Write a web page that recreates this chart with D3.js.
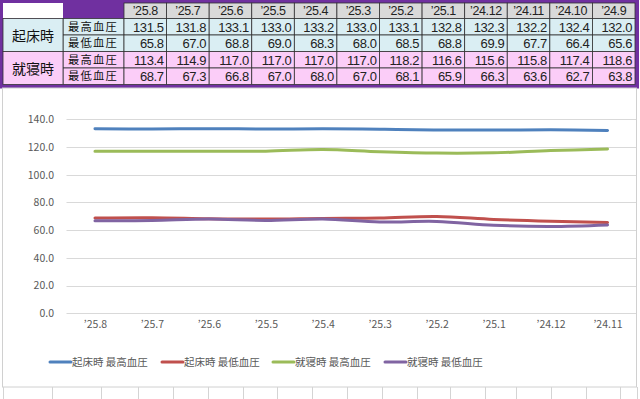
<!DOCTYPE html>
<html>
<head>
<meta charset="utf-8">
<script src="https://cdn.jsdelivr.net/npm/d3@7"></script>
<style>
  body { margin: 0; background: #fff; }
  text { font-family: "Noto Sans CJK JP", "Noto Sans", sans-serif; }
  text.num { font-family: "Liberation Sans", Arial, sans-serif; }
</style>
</head>
<body>
<div id="chart"></div>
<script>
// Table data (upper block)
const tableCols = ["’25.8", "’25.7", "’25.6", "’25.5", "’25.4", "’25.3", "’25.2", "’25.1", "’24.12", "’24.11", "’24.10", "’24.9"];
const groupLabels = ["起床時", "就寝時"];
const rowLabels = ["最高血圧", "最低血圧"];
const wakeHigh = [131.5, 131.8, 133.1, 133.0, 133.2, 133.0, 133.1, 132.8, 132.3, 132.2, 132.4, 132.0];
const wakeLow = [65.8, 67.0, 68.8, 69.0, 68.3, 68.0, 68.5, 68.8, 69.9, 67.7, 66.4, 65.6];
const bedHigh = [113.4, 114.9, 117.0, 117.0, 117.0, 117.0, 118.2, 116.6, 115.6, 115.8, 117.4, 118.6];
const bedLow = [68.7, 67.3, 66.8, 67.0, 68.0, 67.0, 68.1, 65.9, 66.3, 63.6, 62.7, 63.8];

// Chart data (lower block) - values as plotted
const categories = ["’25.8", "’25.7", "’25.6", "’25.5", "’25.4", "’25.3", "’25.2", "’25.1", "’24.12", "’24.11"];
const seriesNames = ["起床時 最高血圧", "起床時 最低血圧", "就寝時 最高血圧", "就寝時 最低血圧"];
const chartWakeHigh = [133.1, 133.0, 133.2, 133.0, 133.1, 132.8, 132.3, 132.2, 132.4, 132.0];
const chartWakeLow = [68.8, 69.0, 68.3, 68.0, 68.5, 68.8, 69.9, 67.7, 66.4, 65.6];
const chartBedHigh = [117.0, 117.0, 117.0, 117.0, 118.2, 116.6, 115.6, 115.8, 117.4, 118.6];
const chartBedLow = [66.8, 67.0, 68.0, 67.0, 68.1, 65.9, 66.3, 63.6, 62.7, 63.8];
const yTicks = [0, 20, 40, 60, 80, 100, 120, 140];

const colors = ["#4f81bd", "#c0504d", "#9bbb59", "#8064a2"];
const purple = "#7030a0";

const svgWidth = 640;
const svgHeight = 399;

const svg = d3.select("#chart")
  .append("svg")
  .attr("width", svgWidth)
  .attr("height", svgHeight);

// ---------- table ----------
const tableLeft = 3;
const groupColW = 60;   // 3..63
const labelColW = 60;   // 63..123
const dataLeft = 124;
const dataRight = 635;
const colW = (dataRight - dataLeft) / tableCols.length;
const headerTop = 3;
const headerH = 15.5;
const rowH = 16.5;

const tableRows = [wakeHigh, wakeLow, bedHigh, bedLow];
const rowFill = ["#daeef3", "#daeef3", "#fbcdf8", "#fbcdf8"];

const table = svg.append("g");

// purple frame
table.append("rect")
  .attr("x", 0).attr("y", 0)
  .attr("width", 639).attr("height", headerTop + headerH + rowH * 4 + 4)
  .attr("fill", purple);

// header row
table.append("rect")
  .attr("x", tableLeft).attr("y", headerTop)
  .attr("width", groupColW).attr("height", headerH)
  .attr("fill", "#fff");
table.append("rect")
  .attr("x", tableLeft + groupColW).attr("y", headerTop)
  .attr("width", labelColW).attr("height", headerH)
  .attr("fill", purple);

table.selectAll("rect.head")
  .data(tableCols)
  .enter()
  .append("rect")
  .attr("class", "head")
  .attr("x", (d, i) => dataLeft + i * colW)
  .attr("y", headerTop)
  .attr("width", colW)
  .attr("height", headerH)
  .attr("fill", "#d9d9d9")
  .attr("stroke", "#333")
  .attr("stroke-width", 0.8);

table.selectAll("text.head")
  .data(tableCols)
  .enter()
  .append("text")
  .attr("class", "head num")
  .attr("x", (d, i) => dataLeft + i * colW + colW / 2)
  .attr("y", headerTop + headerH / 2 + 4.5)
  .attr("text-anchor", "middle")
  .style("font-size", "12.5px")
  .style("letter-spacing", "-0.4px")
  .attr("fill", "#222")
  .text(d => d);

// body rows
const bodyTop = headerTop + headerH;
tableRows.forEach(function (vals, r) {
  const y = bodyTop + r * rowH;
  table.append("rect")
    .attr("x", tableLeft + groupColW).attr("y", y)
    .attr("width", labelColW + 1).attr("height", rowH)
    .attr("fill", rowFill[r])
    .attr("stroke", "#333").attr("stroke-width", 0.8);
  table.append("text")
    .attr("x", tableLeft + groupColW + labelColW / 2)
    .attr("y", y + rowH / 2 + 4.2)
    .attr("text-anchor", "middle")
    .style("font-size", "11.3px")
    .style("letter-spacing", "1.2px")
    .attr("fill", "#111")
    .text(rowLabels[r % 2]);

  table.selectAll(null)
    .data(vals)
    .enter()
    .append("rect")
    .attr("x", (d, i) => dataLeft + i * colW)
    .attr("y", y)
    .attr("width", colW)
    .attr("height", rowH)
    .attr("fill", rowFill[r])
    .attr("stroke", "#333")
    .attr("stroke-width", 0.8);

  table.selectAll(null)
    .data(vals)
    .enter()
    .append("text")
    .attr("class", "num")
    .attr("x", (d, i) => dataLeft + (i + 1) * colW - 3)
    .attr("y", y + rowH / 2 + 4.8)
    .attr("text-anchor", "end")
    .style("font-size", "13px")
    .style("letter-spacing", "-0.4px")
    .attr("fill", "#222")
    .text(d => d.toFixed(1));
});

// group label cells
groupLabels.forEach(function (g, i) {
  const y = bodyTop + i * rowH * 2;
  table.append("rect")
    .attr("x", tableLeft).attr("y", y)
    .attr("width", groupColW).attr("height", rowH * 2)
    .attr("fill", rowFill[i * 2])
    .attr("stroke", "#333").attr("stroke-width", 0.8);
  table.append("text")
    .attr("x", tableLeft + groupColW / 2)
    .attr("y", y + rowH + 5.5)
    .attr("text-anchor", "middle")
    .style("font-size", "14px")
    .attr("fill", "#111")
    .text(g);
});

// ---------- chart ----------
const chartTop = 88;
const chartBottom = 387;

// chart area + spreadsheet grid below
svg.append("rect")
  .attr("x", 2.5).attr("y", chartTop)
  .attr("width", 634).attr("height", chartBottom - chartTop)
  .attr("fill", "#fff")
  .attr("stroke", "#d0d0d0")
  .attr("stroke-width", 1);

const sheetCols = [3, 52, 101, 138, 173, 208, 243, 277, 312, 347, 382, 417, 450, 485, 516, 551, 586, 620, 637];
svg.selectAll("line.sheet")
  .data(sheetCols)
  .enter()
  .append("line")
  .attr("class", "sheet")
  .attr("x1", d => d + 0.5).attr("x2", d => d + 0.5)
  .attr("y1", chartBottom).attr("y2", svgHeight)
  .attr("stroke", "#d4d4d4");

const xScale = d3.scalePoint()
  .domain(categories)
  .range([66.5, 636])
  .padding(0.5);

const yScale = d3.scaleLinear()
  .domain([0, 140])
  .range([313.3, 119.3]);

// gridlines
svg.append("g")
  .selectAll("line")
  .data(yTicks)
  .enter()
  .append("line")
  .attr("x1", 66.5)
  .attr("x2", 636)
  .attr("y1", d => Math.round(yScale(d)) + 0.5)
  .attr("y2", d => Math.round(yScale(d)) + 0.5)
  .attr("stroke", "#d9d9d9")
  .attr("stroke-width", 1);

// y axis labels
const leftAxis = d3.axisLeft(yScale)
  .tickValues(yTicks)
  .tickFormat(d3.format(".1f"))
  .tickSize(0)
  .tickPadding(0);

const yAxisG = svg.append("g")
  .attr("transform", "translate(54, 0)")
  .call(leftAxis);
yAxisG.select(".domain").remove();
yAxisG.selectAll("text")
  .style("font-family", "\"Noto Sans CJK JP\", sans-serif")
  .style("font-size", "10.5px")
  .attr("fill", "#595959");

// x axis labels
const bottomAxis = d3.axisBottom(xScale)
  .tickSize(0)
  .tickPadding(0);

const xAxisG = svg.append("g")
  .attr("transform", "translate(0, 321)")
  .call(bottomAxis);
xAxisG.select(".domain").remove();
xAxisG.selectAll("text")
  .style("font-family", "\"Noto Sans CJK JP\", sans-serif")
  .style("font-size", "10.5px")
  .attr("fill", "#595959");

// lines
const series = [chartWakeHigh, chartWakeLow, chartBedHigh, chartBedLow];
const line = d3.line()
  .x((d, i) => xScale(categories[i]))
  .y(d => yScale(d))
  .curve(d3.curveCatmullRom.alpha(0.5));

svg.append("g")
  .selectAll("path")
  .data(series)
  .enter()
  .append("path")
  .attr("d", d => line(d))
  .attr("fill", "none")
  .attr("stroke", (d, i) => colors[i])
  .attr("stroke-width", 3)
  .attr("stroke-linecap", "round");

// legend
const legendX = [50, 162, 273, 385];
const legend = svg.append("g")
  .selectAll("g")
  .data(seriesNames)
  .enter()
  .append("g")
  .attr("transform", (d, i) => `translate(${legendX[i]}, 362)`);

legend.append("line")
  .attr("x1", 0).attr("x2", 21)
  .attr("y1", 0).attr("y2", 0)
  .attr("stroke", (d, i) => colors[i])
  .attr("stroke-width", 3)
  .attr("stroke-linecap", "round");

legend.append("text")
  .attr("x", 22)
  .attr("y", 4)
  .style("font-size", "10.5px")
  .attr("fill", "#595959")
  .text(d => d);
</script>
</body>
</html>
